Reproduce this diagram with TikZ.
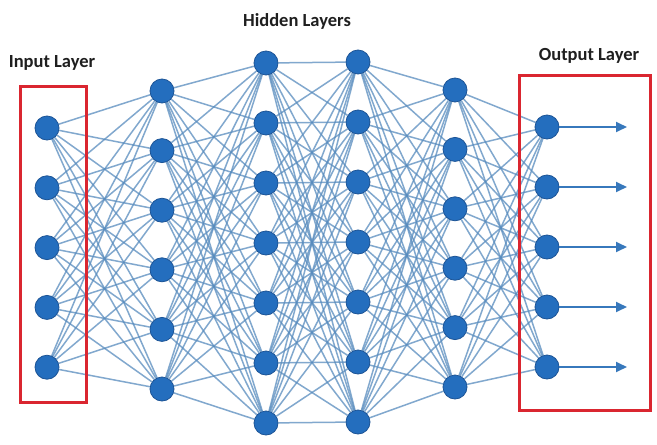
\documentclass[tikz,border=0pt]{standalone}
\usepackage{fontspec}
\setmainfont{Carlito}
\usetikzlibrary{arrows.meta}
\pgfdeclarelayer{bg}\pgfsetlayers{bg,main}
\definecolor{nodeblue}{RGB}{36,110,190}
\definecolor{nodeedge}{RGB}{28,84,150}
\definecolor{linkblue}{RGB}{88,140,190}
\definecolor{arrowblue}{RGB}{55,120,188}
\definecolor{boxred}{RGB}{218,38,48}
\begin{document}
\begin{tikzpicture}[x=1pt,y=-1pt,
  neuron/.style={circle,fill=nodeblue,draw=nodeedge,line width=0.8pt,minimum size=24pt,inner sep=0pt},
  link/.style={draw=linkblue,line width=1.5pt,opacity=0.75},
  layerbox/.style={draw=boxred,line width=3pt},
  title/.style={font=\bfseries\fontsize{18.5}{20}\selectfont,text=black!88,inner sep=0pt},
  outarrow/.style={draw=arrowblue,line width=1.8pt,-{Triangle[length=11pt,width=10pt]}}]
\useasboundingbox (0,0) rectangle (657,445);
% neurons
\foreach \i in {1,...,5} \node[neuron] (a\i) at (47,{128+(\i-1)*59.8}) {};
\foreach \i in {1,...,6} \node[neuron] (b\i) at (162,{91+(\i-1)*59.6}) {};
\foreach \i in {1,...,7} \node[neuron] (c\i) at (266,{63+(\i-1)*60}) {};
\foreach \i in {1,...,7} \node[neuron] (d\i) at (358,{62+(\i-1)*60}) {};
\foreach \i in {1,...,6} \node[neuron] (e\i) at (455,{90+(\i-1)*59.4}) {};
\foreach \i in {1,...,5} \node[neuron] (f\i) at (547,{127+(\i-1)*60}) {};
% links
\begin{pgfonlayer}{bg}
\fill[white] (0,0) rectangle (657,445);
\foreach \i in {1,...,5} \foreach \j in {1,...,6} \draw[link] (a\i) -- (b\j);
\foreach \i in {1,...,6} \foreach \j in {1,...,7} \draw[link] (b\i) -- (c\j);
\foreach \i in {1,...,7} \foreach \j in {1,...,7} \draw[link] (c\i) -- (d\j);
\foreach \i in {1,...,7} \foreach \j in {1,...,6} \draw[link] (d\i) -- (e\j);
\foreach \i in {1,...,6} \foreach \j in {1,...,5} \draw[link] (e\i) -- (f\j);
\end{pgfonlayer}
% outputs
\foreach \i in {1,...,5} {
  \coordinate (z\i) at (627,{127+(\i-1)*60});
  \draw[outarrow] (f\i) -- (z\i);
}
% boxes
\draw[layerbox] (20,86) rectangle (86,402);
\draw[layerbox] (519,75) rectangle (650,410);
% titles
\node[title] (tin) at (52,63) {Input Layer};
\node[title] (thid) at (297,21) {Hidden Layers};
\node[title] (tout) at (589,56) {Output Layer};
\end{tikzpicture}
\end{document}
